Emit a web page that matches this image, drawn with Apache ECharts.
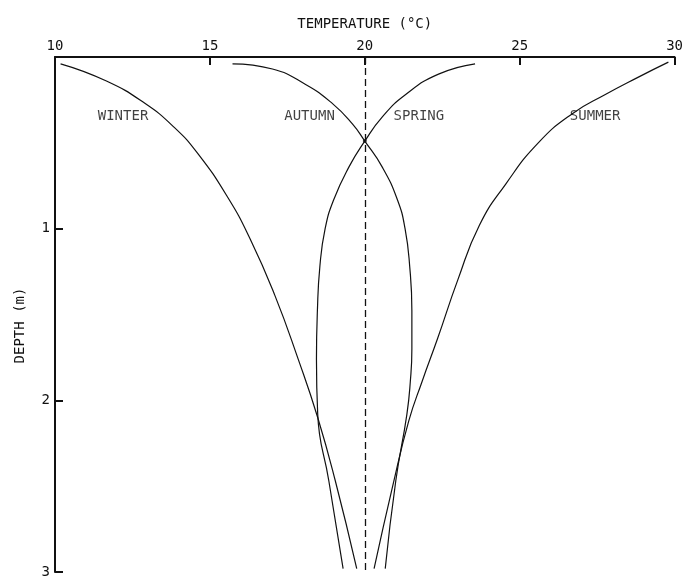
<!DOCTYPE html>
<html>
<head>
<meta charset="utf-8">
<script src="https://cdn.jsdelivr.net/npm/echarts@6/dist/echarts.min.js"></script>
<style>
html,body{margin:0;padding:0;background:#fff;}
#chart{width:686px;height:579px;}
</style>
</head>
<body>
<div id="chart"></div>
<script>
// Temperature (°C) vs depth (m) profiles
const winter = [[10.18,0.04],[11.66,0.14],[12.9,0.27],[13.85,0.41],[14.6,0.56],[15.55,0.81],[16.3,1.06],[17.1,1.39],[17.85,1.76],[18.48,2.1],[19.05,2.47],[19.74,2.98]];
const autumn = [[15.73,0.04],[17.02,0.07],[18.09,0.16],[18.95,0.27],[19.6,0.39],[20.0,0.49],[20.56,0.64],[21.05,0.83],[21.3,1.0],[21.45,1.22],[21.52,1.48],[21.52,1.70],[21.47,1.89],[21.36,2.08],[21.0,2.47],[20.66,2.98]];
const spring = [[23.56,0.04],[22.38,0.10],[21.31,0.22],[20.56,0.35],[20.0,0.49],[19.49,0.64],[19.0,0.83],[18.72,1.0],[18.55,1.22],[18.47,1.48],[18.44,1.76],[18.48,2.08],[18.84,2.47],[19.3,2.98]];
const summer = [[29.8,0.03],[28.8,0.12],[27.75,0.22],[26.7,0.33],[25.6,0.5],[24.55,0.74],[23.7,0.98],[23.0,1.3],[22.35,1.64],[21.85,1.89],[21.42,2.12],[20.9,2.5],[20.3,2.98]];
const meanTemp = 20;
const crossing = [[20.0, 0.49]];
const seasonLabels = [
  {name:'WINTER', value:[11.38,0.347]},
  {name:'AUTUMN', value:[17.40,0.347]},
  {name:'SPRING', value:[20.93,0.347]},
  {name:'SUMMER', value:[26.62,0.347]}
];
const tempTicks = [10,15,20,25,30];
const depthTicks = [1,2,3];

const FONT = 'DejaVu Sans Mono';
const INK = '#111';

function curve(data){
  return {
    type:'line', data:data, smooth:0.5, showSymbol:false, silent:true,
    lineStyle:{color:INK, width:1.2}, z:3
  };
}

const chart = echarts.init(document.getElementById('chart'), null, {renderer:'canvas'});
chart.setOption({
  animation:false,
  backgroundColor:'#fff',
  grid:{left:55, right:8, top:57, bottom:5, containLabel:false},
  xAxis:{
    type:'value', position:'top', min:10, max:30, interval:5,
    name:'TEMPERATURE (°C)', nameLocation:'middle', nameGap:26,
    nameTextStyle:{fontFamily:FONT, fontSize:14, color:INK},
    axisLine:{show:true, lineStyle:{color:INK, width:2}},
    axisTick:{show:true, inside:true, length:8, lineStyle:{color:INK, width:2}},
    axisLabel:{fontFamily:FONT, fontSize:14, color:INK, margin:4,
      formatter:function(v){return tempTicks.indexOf(v)>=0 ? String(v) : '';}},
    splitLine:{show:false}
  },
  yAxis:{
    type:'value', inverse:true, min:0, max:3, interval:1,
    name:'DEPTH (m)', nameLocation:'middle', nameGap:28, nameRotate:90,
    nameTextStyle:{fontFamily:FONT, fontSize:14, color:INK, padding:[0,22,0,0]},
    axisLine:{show:true, lineStyle:{color:INK, width:2}},
    axisTick:{show:true, inside:true, length:8, lineStyle:{color:INK, width:2}},
    axisLabel:{fontFamily:FONT, fontSize:14, color:INK, margin:5,
      formatter:function(v){return depthTicks.indexOf(v)>=0 ? String(v) : '';}},
    splitLine:{show:false}
  },
  series:[
    curve(winter), curve(autumn), curve(spring), curve(summer),
    {
      type:'line', data:[], silent:true,
      markLine:{
        silent:true, symbol:'none', label:{show:false},
        lineStyle:{color:INK, width:1.3, type:[7,4]},
        data:[{xAxis:meanTemp}]
      }
    },
    {
      type:'scatter', data:crossing, symbol:'circle', symbolSize:4, silent:true,
      itemStyle:{color:INK}, z:4
    },
    {
      type:'scatter', data:seasonLabels, symbolSize:0, silent:true,
      label:{show:true, position:'right', distance:0, formatter:'{b}',
        fontFamily:FONT, fontSize:14, color:INK}
    }
  ]
});
</script>
</body>
</html>
